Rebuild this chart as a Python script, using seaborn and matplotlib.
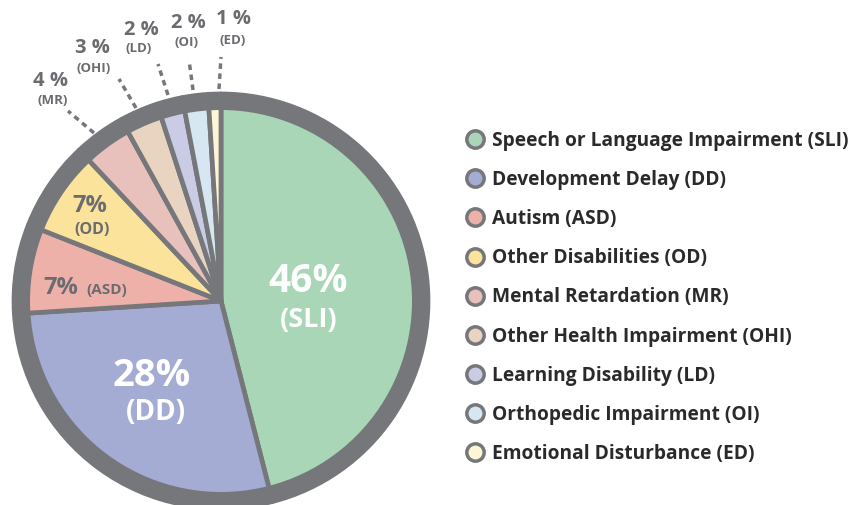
import matplotlib
matplotlib.use("Agg")
import matplotlib.pyplot as plt
import seaborn as sns
from matplotlib.lines import Line2D
from matplotlib.patches import Circle

sns.set_theme(style="white")
plt.rcParams['font.family'] = ['Open Sans', 'DejaVu Sans']

categories = ["Speech or Language Impairment (SLI)", "Development Delay (DD)", "Autism (ASD)",
              "Other Disabilities (OD)", "Mental Retardation (MR)", "Other Health Impairment (OHI)",
              "Learning Disability (LD)", "Orthopedic Impairment (OI)", "Emotional Disturbance (ED)"]
abbrevs = ["SLI", "DD", "ASD", "OD", "MR", "OHI", "LD", "OI", "ED"]
values = [46, 28, 7, 7, 4, 3, 2, 2, 1]
colors = ["#a9d6b6", "#a4acd4", "#eeb1a9", "#fbe39b", "#e8c1bd", "#e8d4c1", "#c9cce4", "#d7e7f1", "#fdf5d6"]

EDGE = "#76777b"
GRAY_TXT = "#6b6c70"

fig = plt.figure(figsize=(8.5, 5.05), dpi=100)
ax = fig.add_axes([0, 0, 1, 1])

cx, cy, R = 221, 505 - 301, 207
ax.pie(values, colors=colors, startangle=90, counterclock=False,
       center=(cx, cy), radius=R, frame=True,
       wedgeprops=dict(edgecolor=EDGE, linewidth=3.4, joinstyle="round"))
ax.set_xlim(0, 850)
ax.set_ylim(0, 505)
ax.set_aspect('equal')
ax.axis('off')
ring = 16
ax.add_patch(Circle((cx, cy), R - ring / 2, fill=False, edgecolor=EDGE, linewidth=ring * 0.72, zorder=5))

def Y(y):
    return 505 - y

# inside labels
ax.text(308, Y(282), "46%", color="white", fontsize=28, fontweight="bold", ha="center", va="center", zorder=6)
ax.text(309, Y(320), "(SLI)", color="white", fontsize=19.5, fontweight="bold", ha="center", va="center", zorder=6)
ax.text(152, Y(376), "28%", color="white", fontsize=27.5, fontweight="bold", ha="center", va="center", zorder=6)
ax.text(156, Y(412), "(DD)", color="white", fontsize=20, fontweight="bold", ha="center", va="center", zorder=6)
ax.text(90, Y(206), "7%", color=GRAY_TXT, fontsize=17, fontweight="bold", ha="center", va="center", zorder=6)
ax.text(92, Y(230), "(OD)", color=GRAY_TXT, fontsize=11.5, fontweight="bold", ha="center", va="center", zorder=6)
ax.text(61, Y(288), "7%", color=GRAY_TXT, fontsize=17, fontweight="bold", ha="center", va="center", zorder=6)
ax.text(107, Y(290), "(ASD)", color=GRAY_TXT, fontsize=11, fontweight="bold", ha="center", va="center", zorder=6)

# outside labels with dashed leaders
outside = [
    (4, "MR", (51, 81), (53, 101), [(94, 133), (68, 111)]),
    (3, "OHI", (92, 48), (94, 68), [(136, 108), (119, 79)]),
    (2, "LD", (141, 30), (139, 48), [(168, 95), (158, 64)]),
    (2, "OI", (188, 23), (187, 43), [(193, 90), (189, 60)]),
    (1, "ED", (234, 19), (233, 40), [(219, 89), (221, 57)]),
]
for pct, ab, p1, p2, line in outside:
    ax.text(p1[0], Y(p1[1]), f"{pct} %", color=GRAY_TXT, fontsize=14.5, fontweight="bold", ha="center", va="center")
    ax.text(p2[0], Y(p2[1]), f"({ab})", color=GRAY_TXT, fontsize=9.5, fontweight="bold", ha="center", va="center")
    ax.plot([line[0][0], line[1][0]], [Y(line[0][1]), Y(line[1][1])], color=EDGE, lw=2.5,
            linestyle=(0, (1.6, 1.3)), dash_capstyle="butt")

# legend
handles = [Line2D([0], [0], marker='o', linestyle='none', markersize=12.5,
                  markerfacecolor=c, markeredgecolor=EDGE, markeredgewidth=2.5) for c in colors]
leg = fig.legend(handles, categories, loc="upper left", bbox_to_anchor=(0.547, 0.741),
                 frameon=False, handletextpad=0.3, labelspacing=1.0, handlelength=1.1,
                 borderaxespad=0, borderpad=0,
                 prop=dict(size=13.8, weight="bold"))
for t in leg.get_texts():
    t.set_color("#2a2a2a")

fig.savefig("out.png", dpi=100)
